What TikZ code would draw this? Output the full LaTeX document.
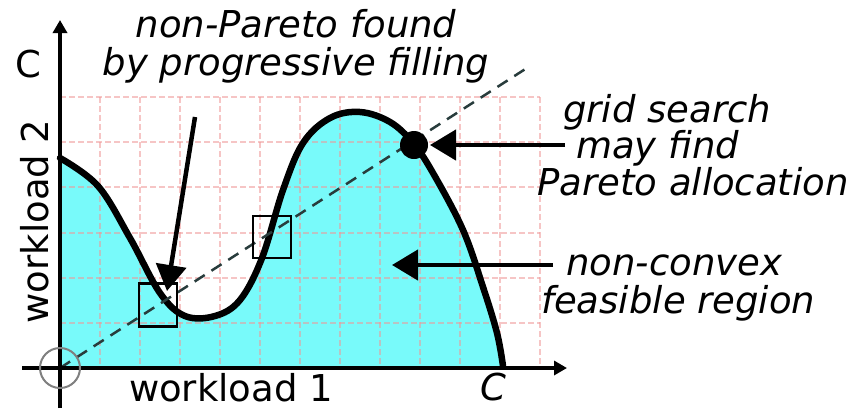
\documentclass[tikz,border=0pt]{standalone}
\usepackage{fontspec}
\setmainfont{DejaVu Sans}
\usetikzlibrary{arrows.meta}
\definecolor{aqua}{RGB}{120,250,250}
\definecolor{gridpink}{RGB}{240,150,150}
\definecolor{diagc}{RGB}{40,60,60}
\begin{document}
\begin{tikzpicture}[x=1pt,y=-1pt,
  lbl/.style={font=\itshape\fontsize{37}{38}\selectfont, inner sep=0pt},
  axlbl/.style={font=\fontsize{37}{38}\selectfont, inner sep=0pt},
  axisline/.style={line width=4.5pt, -{Triangle[length=13pt,width=14pt]}},
  curve/.style={line width=6.5pt, line join=round, line cap=round},
  callout/.style={line width=4.5pt, -{Triangle[length=26pt,width=30pt]}},
  probe/.style={draw, line width=2.5pt},
  gridl/.style={gridpink, opacity=.55, line width=2pt, dash pattern=on 6pt off 3pt},
  diag/.style={diagc, line width=2.5pt, dash pattern=on 12pt off 8pt},
]
\useasboundingbox (0,0) rectangle (859,408);
\fill[white] (0,0) rectangle (859,408);

% feasible region
\fill[aqua] plot[smooth, tension=0.6] coordinates {(60,158) (98,186) (130,238) (160,293) (185,316) (215,316) (240,300) (262,258) (283,190) (303,143) (330,118) (360,112) (390,122) (413,143) (433,173) (463,230) (483,287) (497,333) (503,366)} -- (503,368) -- (60,368) -- cycle;

% grid
\foreach \gx in {100,140,...,540} \draw[gridl] (\gx,97) -- (\gx,368);
\foreach \gy in {97,142.2,187.3,232.5,277.7,322.8} \draw[gridl] (60,\gy) -- (540,\gy);

% boundary curve
\draw[curve] plot[smooth, tension=0.6] coordinates {(60,158) (98,186) (130,238) (160,293) (185,316) (215,316) (240,300) (262,258) (283,190) (303,143) (330,118) (360,112) (390,122) (413,143) (433,173) (463,230) (483,287) (497,333) (503,366)};

% diagonal
\coordinate (o) at (60,368);
\coordinate (dend) at (530,66);
\draw[diag] (o) -- (dend);

% probes
\node[probe, minimum width=38pt, minimum height=43pt, inner sep=0pt] (b1) at (158,305) {};
\node[probe, minimum width=38pt, minimum height=42pt, inner sep=0pt] (b2) at (272,237) {};
\node[circle, fill=black, minimum size=28pt, inner sep=0pt] (dot) at (414,145) {};

% axes
\coordinate (ybot) at (60,408);
\coordinate (ytop) at (60,20);
\coordinate (xl) at (22,368);
\coordinate (xr) at (567,368);
\draw[axisline] (ybot) -- (ytop);
\draw[axisline] (xl) -- (xr);
\node[circle, draw=gray, line width=2pt, minimum size=40pt, inner sep=0pt] (origin) at (o) {};

% axis labels
\node[axlbl] (cy) at (28,64) {C};
\node[axlbl] (cx) at (493,387) {\itshape C};
\node[axlbl, anchor=base, text depth=0pt] (wl1) at (231,401) {workload 1};
\node[axlbl, anchor=base, rotate=90] (wl2) at (48,221.5) {workload 2};

% annotation texts
\node[lbl, anchor=base] (np1) at (296,37) {non-Pareto found};
\node[lbl, anchor=base] (np2) at (296,75) {by progressive filling};
\node[lbl, anchor=base west] (gs1) at (563,122) {grid search};
\node[lbl, anchor=base west] (gs2) at (576,158) {may find};
\node[lbl, anchor=base west] (gs3) at (537,195) {Pareto allocation};
\node[lbl, anchor=base west] (nc1) at (566,275) {non-convex};
\node[lbl, anchor=base west] (nc2) at (541,313) {feasible region};

% callouts
\coordinate (a1s) at (195,117);
\coordinate (a1e) at (167,291);
\coordinate (a2s) at (565,145);
\coordinate (a2e) at (430,145);
\coordinate (a3s) at (553,265);
\coordinate (a3e) at (392,265);
\draw[callout] (a1s) -- (a1e);
\draw[callout] (a2s) -- (a2e);
\draw[callout] (a3s) -- (a3e);
\end{tikzpicture}
\end{document}
